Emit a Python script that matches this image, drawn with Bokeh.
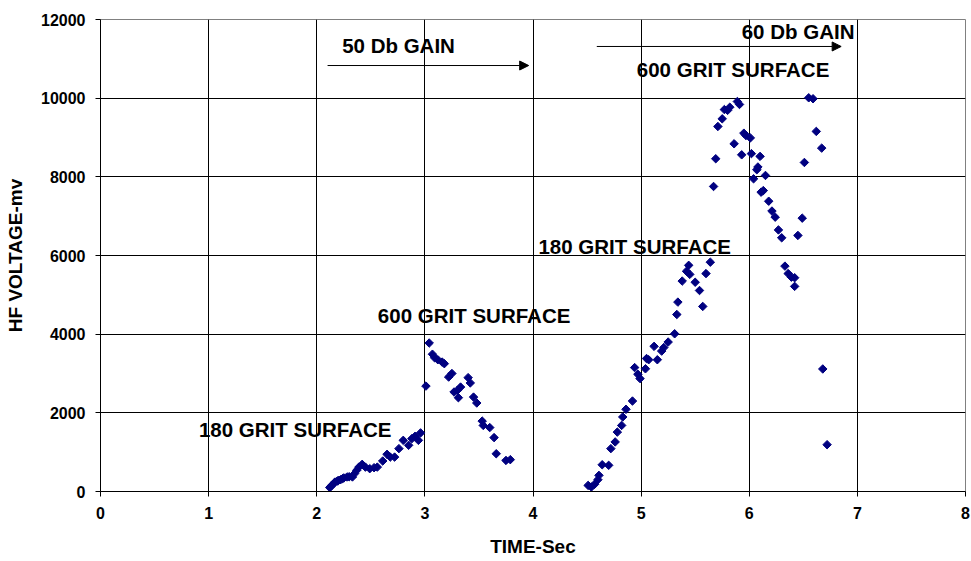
import math

from bokeh.core.properties import value
from bokeh.embed import file_html
from bokeh.models import Arrow, ColumnDataSource, FixedTicker, NormalHead
from bokeh.plotting import figure
from bokeh.resources import INLINE

# Time (s) and HF voltage (mV) readings, in acquisition order
time_s = [
    # 180 grit, 50 dB
    2.12, 2.13, 2.14, 2.16, 2.17, 2.19, 2.20, 2.22, 2.24, 2.25, 2.28, 2.30,
    2.33, 2.35, 2.37, 2.39, 2.42, 2.45, 2.49, 2.53, 2.56, 2.61, 2.65, 2.68,
    2.72, 2.76, 2.80, 2.85, 2.88, 2.91, 2.94, 2.96,
    # 600 grit, 50 dB
    3.01, 3.04, 3.07, 3.09, 3.12, 3.16, 3.18, 3.22, 3.25, 3.27, 3.30, 3.31,
    3.33, 3.40, 3.42, 3.45, 3.48, 3.53, 3.54, 3.60, 3.64, 3.66, 3.75, 3.79,
    # 180 grit, 60 dB
    4.51, 4.54, 4.57, 4.60, 4.61, 4.64, 4.70, 4.72, 4.76, 4.78, 4.82, 4.83,
    4.86, 4.92, 4.94, 4.97, 4.99, 5.04, 5.05, 5.07, 5.12, 5.15, 5.19, 5.21,
    5.25, 5.31, 5.33, 5.34, 5.38, 5.42, 5.44, 5.45, 5.50, 5.54, 5.57, 5.60,
    5.64,
    # 600 grit, 60 dB
    5.67, 5.69, 5.71, 5.75, 5.77, 5.80, 5.82, 5.86, 5.89, 5.91, 5.93, 5.95,
    5.97, 6.01, 6.02, 6.04, 6.07, 6.08, 6.10, 6.11, 6.13, 6.15, 6.18, 6.21,
    6.24, 6.27, 6.30, 6.33, 6.36, 6.39, 6.42, 6.42, 6.45, 6.49, 6.51, 6.55,
    6.59, 6.62, 6.67, 6.68, 6.72,
]
hf_voltage_mv = [
    100, 130, 160, 215, 240, 265, 280, 300, 330, 345, 370, 375,
    370, 455, 540, 620, 690, 620, 580, 605, 620, 775, 945, 875,
    875, 1090, 1300, 1175, 1345, 1405, 1300, 1490,
    2680, 3775, 3490, 3400, 3350, 3290, 3250, 2910, 3000, 2530, 2570, 2385,
    2655, 2895, 2760, 2400, 2250, 1790, 1680, 1625, 1370, 960, 790, 810,
    155, 115, 185, 300, 410, 680, 665, 1090, 1260, 1510, 1680, 1895,
    2090, 2300, 3150, 2980, 2870, 3120, 3380, 3350, 3690, 3350, 3570, 3660,
    3800, 4010, 4500, 4815, 5350, 5600, 5750, 5520, 5320, 5110, 4705, 5540,
    5830,
    7755, 8460, 9280, 9475, 9710, 9690, 9770, 8840, 9915, 9840, 8560, 9110,
    9050, 8990, 8590, 7950, 8180, 8250, 8520, 7610, 7650, 8035, 7380, 7130,
    6975, 6650, 6450, 5730, 5540, 5450, 5435, 5215, 6510, 6950, 8365, 10010,
    9985, 9155, 8730, 3115, 1190,
]

x_ticks = [0, 1, 2, 3, 4, 5, 6, 7, 8]
y_ticks = [0, 2000, 4000, 6000, 8000, 10000, 12000]

# Surface / gain annotations (left edge, vertical centre)
note_text = ["180 GRIT SURFACE", "600 GRIT SURFACE", "180 GRIT SURFACE",
             "600 GRIT SURFACE", "50 Db GAIN", "60 Db GAIN"]
note_x = [0.91, 2.565, 4.05, 4.96, 2.235, 5.93]
note_y = [1581, 4483, 6231, 10734, 11332, 11690]

# Gain-range arrows: (x_start, x_end, y)
gain_arrows = [(2.10, 3.96, 10830), (4.59, 6.85, 11314)]

FONT = "Liberation Sans"

p = figure(
    width=971, height=561,
    x_range=(0, 8), y_range=(0, 12000),
    output_backend="svg", toolbar_location=None,
    min_border_left=100, min_border_right=6,
    min_border_top=19, min_border_bottom=70,
    background_fill_color="white", border_fill_color="white",
)
p.outline_line_color = "#808080"

for ax in (p.xaxis, p.yaxis):
    ax.major_tick_in = 0
    ax.major_tick_out = 5
    ax.minor_tick_out = 0
    ax.minor_tick_in = 0
    ax.axis_line_color = "black"
    ax.major_tick_line_color = "black"
    ax.major_label_text_font = FONT
    ax.major_label_text_font_style = "bold"
    ax.major_label_text_font_size = "16px"
    ax.major_label_text_color = "black"
    ax.axis_label_text_font = FONT
    ax.axis_label_text_font_style = "bold"
    ax.axis_label_text_font_size = "19px"
    ax.axis_label_text_color = "black"

p.xaxis.ticker = FixedTicker(ticks=x_ticks)
p.yaxis.ticker = FixedTicker(ticks=y_ticks)
p.xaxis.axis_label = "TIME-Sec"
p.yaxis.axis_label = "HF VOLTAGE-mv"
p.xaxis.major_label_standoff = 10
p.yaxis.major_label_standoff = 10
p.xaxis.axis_label_standoff = 14
p.yaxis.axis_label_standoff = 12

p.xgrid.ticker = FixedTicker(ticks=x_ticks)
p.ygrid.ticker = FixedTicker(ticks=y_ticks)
p.xgrid.grid_line_color = "black"
p.ygrid.grid_line_color = "black"
p.xgrid.grid_line_width = 1
p.ygrid.grid_line_width = 1

p.scatter(time_s, hf_voltage_mv, marker="square", size=6, angle=math.pi / 4,
          fill_color="#000080", line_color="#000080")

notes = ColumnDataSource(data=dict(x=note_x, y=note_y, text=note_text))
p.text(x="x", y="y", text="text", source=notes,
       text_font=value(FONT), text_font_style="bold", text_font_size="20.5px",
       text_color="black", text_align="left", text_baseline="middle")

for x0, x1, yy in gain_arrows:
    p.add_layout(Arrow(
        end=NormalHead(size=9, fill_color="black", line_color="black"),
        x_start=x0, y_start=yy, x_end=x1, y_end=yy,
        line_color="black", line_width=1,
    ))

with open("out.html", "w") as f:
    f.write(file_html(p, INLINE))
